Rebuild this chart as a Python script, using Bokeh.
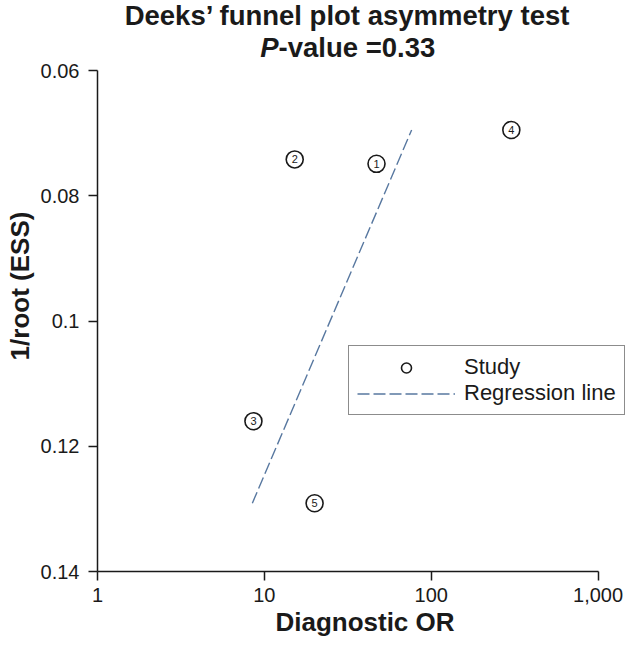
import math
from bokeh.plotting import figure
from bokeh.models import (Range1d, FixedTicker, Legend, LegendItem, Label,
                          NumeralTickFormatter)
from bokeh.core.properties import value
from bokeh.embed import file_html
from bokeh.resources import INLINE

# ---- data ----
study_ids = ["1", "2", "3", "4", "5"]
diagnostic_or = [47.0, 15.2, 8.6, 302.0, 20.0]
inv_root_ess = [0.0749, 0.0742, 0.1160, 0.0695, 0.1291]
reg_or = [8.47, 76.3]
reg_inv_root_ess = [0.1291, 0.0695]
x_ticks = [1, 10, 100, 1000]
y_ticks = [0.06, 0.08, 0.1, 0.12, 0.14]
y_tick_labels = ["0.06", "0.08", "0.1", "0.12", "0.14"]
title_line1 = "Deeks\u2019 funnel plot asymmetry test"
title_p = "P"
title_rest = "-value =0.33"

FONT = "Liberation Sans"
INK = "#1a1a1a"

# ---- layout geometry (pixels) ----
W, H = 632, 647
LEFT, BOTTOM = 97, 76            # frame border on left / bottom
FRAME_W, FRAME_H = W - LEFT, H - BOTTOM
AXIS_X_LEN = 500.6               # pixels from 1 to 1000
AXIS_Y_TOP = 70                  # pixels from frame top to the 0.06 tick
x_lo, x_hi = x_ticks[0], x_ticks[-1]
y_lo, y_hi = y_ticks[0], y_ticks[-1]
dec = math.log10(x_hi / x_lo)
x_end = 10 ** (math.log10(x_lo) + dec * FRAME_W / AXIS_X_LEN)
y_end = y_lo - (y_hi - y_lo) * AXIS_Y_TOP / (FRAME_H - AXIS_Y_TOP)

p = figure(width=W, height=H, output_backend="svg", toolbar_location=None,
           x_axis_type="log",
           x_range=Range1d(x_lo, x_end), y_range=Range1d(y_hi, y_end),
           min_border_left=LEFT, min_border_right=0,
           min_border_top=0, min_border_bottom=BOTTOM)
p.title.text = ""
p.outline_line_color = None
p.xgrid.grid_line_color = None
p.ygrid.grid_line_color = None
p.background_fill_color = "white"
p.border_fill_color = "white"

# axes
for ax in (p.xaxis[0], p.yaxis[0]):
    ax.axis_line_color = INK
    ax.axis_line_width = 1.5
    ax.major_tick_line_color = INK
    ax.major_tick_line_width = 1.5
    ax.major_tick_out = 9
    ax.major_tick_in = 0
    ax.minor_tick_line_color = None
    ax.major_label_text_font = FONT
    ax.major_label_text_font_size = "20px"
    ax.major_label_text_color = INK
    ax.axis_label_text_font = FONT
    ax.axis_label_text_font_style = "bold"
    ax.axis_label_text_font_size = "26px"
    ax.axis_label_text_color = INK

p.xaxis[0].bounds = (x_lo, x_hi)
p.xaxis[0].ticker = FixedTicker(ticks=x_ticks)
p.xaxis[0].formatter = NumeralTickFormatter(format="0,0")
p.xaxis[0].major_label_standoff = 7
p.xaxis[0].axis_label = "Diagnostic OR"
p.xaxis[0].axis_label_standoff = 2

p.yaxis[0].bounds = (y_lo, y_hi)
p.yaxis[0].ticker = FixedTicker(ticks=y_ticks)
p.yaxis[0].major_label_overrides = dict(zip(y_ticks, y_tick_labels))
p.yaxis[0].major_label_standoff = 9
p.yaxis[0].axis_label = "1/root (ESS)"
p.yaxis[0].axis_label_standoff = 3

# regression line
reg = p.line(reg_or, reg_inv_root_ess, line_color="#5878a0", line_width=1.4,
             line_dash="12 4")

# study points
pts = p.scatter(diagnostic_or, inv_root_ess, size=17, marker="circle",
                fill_color="white", line_color=INK, line_width=1.6)
p.text(diagnostic_or, inv_root_ess, text=study_ids, text_align="center",
       text_baseline="middle", text_font=value(FONT), text_font_size="11px",
       text_color=INK)

legend = Legend(items=[LegendItem(label="Study", renderers=[pts]),
                       LegendItem(label="Regression line", renderers=[reg])],
                location=(251, 156), orientation="vertical",
                border_line_color=INK, border_line_width=1.5,
                background_fill_color="white", background_fill_alpha=1.0,
                label_text_font=FONT, label_text_font_size="22px",
                label_text_color=INK, glyph_width=98, glyph_height=25,
                label_height=25, label_standoff=9, padding=8, spacing=0,
                margin=0)
p.add_layout(legend, "center")

# title (two lines, second with italic P), centred over the 1..1000 axis
cx = AXIS_X_LEN / 2
fs = 27.5
p_w = 0.667 * fs
rest_w = 5.698 * fs
start = cx - (p_w + rest_w) / 2
p.add_layout(Label(x=cx, y=FRAME_H - 15, x_units="screen", y_units="screen",
                   text=title_line1, text_align="center", text_baseline="middle",
                   text_font=FONT, text_font_size=f"{fs}px", text_font_style="bold",
                   text_color=INK))
p.add_layout(Label(x=start, y=FRAME_H - 47, x_units="screen", y_units="screen",
                   text=title_p, text_align="left", text_baseline="middle",
                   text_font=FONT, text_font_size=f"{fs}px",
                   text_font_style="bold italic", text_color=INK))
p.add_layout(Label(x=start + p_w, y=FRAME_H - 47, x_units="screen", y_units="screen",
                   text=title_rest, text_align="left", text_baseline="middle",
                   text_font=FONT, text_font_size=f"{fs}px", text_font_style="bold",
                   text_color=INK))

open("out.html", "w").write(file_html(p, INLINE))
